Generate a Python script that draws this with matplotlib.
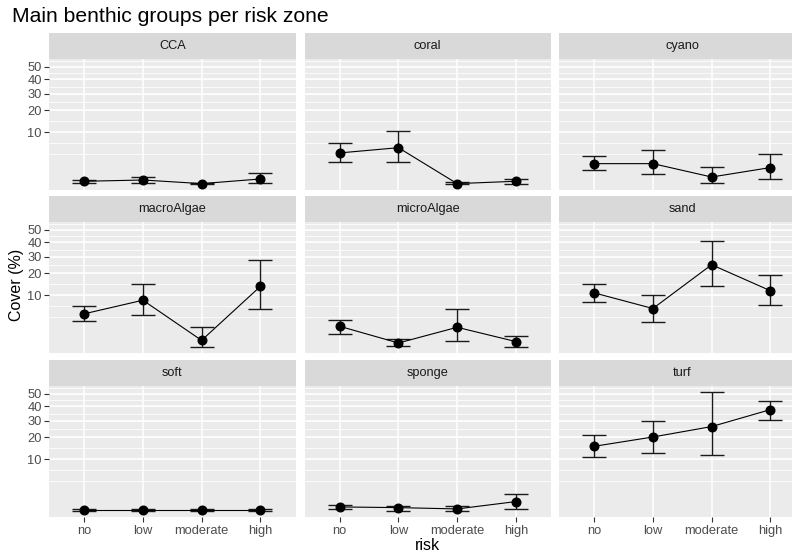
import numpy as np
import matplotlib
matplotlib.use("Agg")
import matplotlib.pyplot as plt

plt.rcParams["font.family"] = ["Liberation Sans", "DejaVu Sans"]

groups = ["CCA", "coral", "cyano", "macroAlgae", "microAlgae", "sand", "soft", "sponge", "turf"]
risk = ["no", "low", "moderate", "high"]

# mean cover (%) per group and risk zone, with lower / upper error bar ends
cover_mean = [
    [0.05, 0.09, 0.007, 0.13],
    [3.7, 5.0, 0.007, 0.05],
    [1.64, 1.64, 0.23, 1.09],
    [4.2, 8.2, 0.21, 13.6],
    [1.69, 0.09, 1.54, 0.15],
    [10.9, 5.6, 24.9, 11.8],
    [0.012, 0.012, 0.012, 0.012],
    [0.093, 0.069, 0.034, 0.39],
    [15.5, 20.2, 26.2, 37.6],
]
cover_lower = [
    [0.01, 0.01, 0.001, 0.014],
    [1.9, 1.9, 0.001, 0.004],
    [0.78, 0.47, 0.014, 0.15],
    [2.6, 3.8, 0.004, 5.5],
    [0.74, 0.01, 0.2, 0.004],
    [7.6, 2.5, 13.6, 6.7],
    [0.003, 0.003, 0.003, 0.003],
    [0.028, 0.007, 0.004, 0.041],
    [10.8, 12.5, 11.6, 30.6],
]
cover_upper = [
    [0.08, 0.21, 0.02, 0.55],
    [6.3, 10.3, 0.03, 0.15],
    [3.0, 4.3, 1.16, 3.5],
    [6.4, 14.7, 1.6, 27.8],
    [2.9, 0.32, 5.6, 0.49],
    [14.7, 10.2, 40.8, 19.3],
    [0.025, 0.025, 0.025, 0.025],
    [0.196, 0.133, 0.147, 1.21],
    [21.2, 30.0, 51.5, 44.5],
]
y_breaks = [10, 20, 30, 40, 50]


def fwd(v):
    v = np.asarray(v, dtype=float)
    return np.sign(v) * np.sqrt(np.abs(v))


def inv(v):
    v = np.asarray(v, dtype=float)
    return np.sign(v) * v ** 2


# ggplot-like minor breaks (midpoints in sqrt space, extended one step each side)
sb = list(fwd(y_breaks))
sb = [sb[0] - (sb[1] - sb[0])] + sb + [sb[-1] + (sb[-1] - sb[-2])]
minor = []
for a, b in zip(sb[:-1], sb[1:]):
    minor += [a, (a + b) / 2]
minor.append(sb[-1])
minor = [m ** 2 for m in minor if m > 0]

W, H = 792, 555
fig = plt.figure(figsize=(W / 100, H / 100), dpi=100)
fig.patch.set_facecolor("white")

col_left = [49, 304.5, 559]
row_top = [59, 222, 386]
pw, ph = 246.5, 130.6
strip_h = 25.7

ylo, yhi = -0.275, 7.55  # limits in sqrt space

for i, g in enumerate(groups):
    r, c = divmod(i, 3)
    x0, y0 = col_left[c], row_top[r]
    ax = fig.add_axes([x0 / W, 1 - (y0 + ph) / H, pw / W, ph / H])
    ax.set_facecolor("#EBEBEB")
    ax.set_yscale("function", functions=(fwd, inv))
    ax.set_ylim(np.sign(ylo) * ylo ** 2, yhi ** 2)
    ax.set_xlim(-0.6, 3.6)
    for s in ax.spines.values():
        s.set_visible(False)

    for m in minor:
        ax.axhline(m, color="white", lw=0.55, zorder=0)
    for b in y_breaks:
        ax.axhline(b, color="white", lw=1.1, zorder=0)
    for k in range(len(risk)):
        ax.axvline(k, color="white", lw=1.1, zorder=0)

    x = np.arange(len(risk))
    m = np.array(cover_mean[i])
    lo = np.array(cover_lower[i])
    hi = np.array(cover_upper[i])
    ax.errorbar(x, m, yerr=[m - lo, hi - m], fmt="none", ecolor="#1a1a1a",
                elinewidth=1.0, capsize=8.4, capthick=1.0, zorder=2)
    ax.plot(x, m, color="black", lw=0.8, zorder=3)
    ax.plot(x, m, "o", color="black", ms=6.2, zorder=4)

    ax.set_yticks(y_breaks)
    ax.set_xticks(x)
    ax.yaxis.set_minor_locator(matplotlib.ticker.NullLocator())
    if c == 0:
        ax.set_yticklabels([str(b) for b in y_breaks])
        ax.tick_params(axis="y", length=3.3, width=0.8, color="#333333",
                       labelcolor="#4D4D4D", labelsize=9.3, pad=1.8)
    else:
        ax.tick_params(axis="y", length=0, labelleft=False)
    if r == 2:
        ax.set_xticklabels(risk)
        ax.tick_params(axis="x", length=3.3, width=0.8, color="#333333",
                       labelcolor="#4D4D4D", labelsize=9.3, pad=2.5)
    else:
        ax.tick_params(axis="x", length=0, labelbottom=False)

    sax = fig.add_axes([x0 / W, 1 - y0 / H, pw / W, strip_h / H])
    sax.set_facecolor("#D9D9D9")
    sax.set_xticks([])
    sax.set_yticks([])
    for s in sax.spines.values():
        s.set_visible(False)
    sax.text(0.5, 0.5, g, ha="center", va="center", fontsize=9.2,
             color="#1A1A1A", transform=sax.transAxes)

fig.text(12 / W, 1 - 17 / H, "Main benthic groups per risk zone",
         fontsize=15.2, color="black", ha="left", va="center")
fig.text(16 / W, 1 - 285 / H, "Cover (%)", fontsize=11.5, rotation=90,
         ha="center", va="center", color="black")
fig.text(427 / W, 1 - 546 / H, "risk", fontsize=11.5, ha="center", va="center",
         color="black")

fig.savefig("out.png", dpi=100)
